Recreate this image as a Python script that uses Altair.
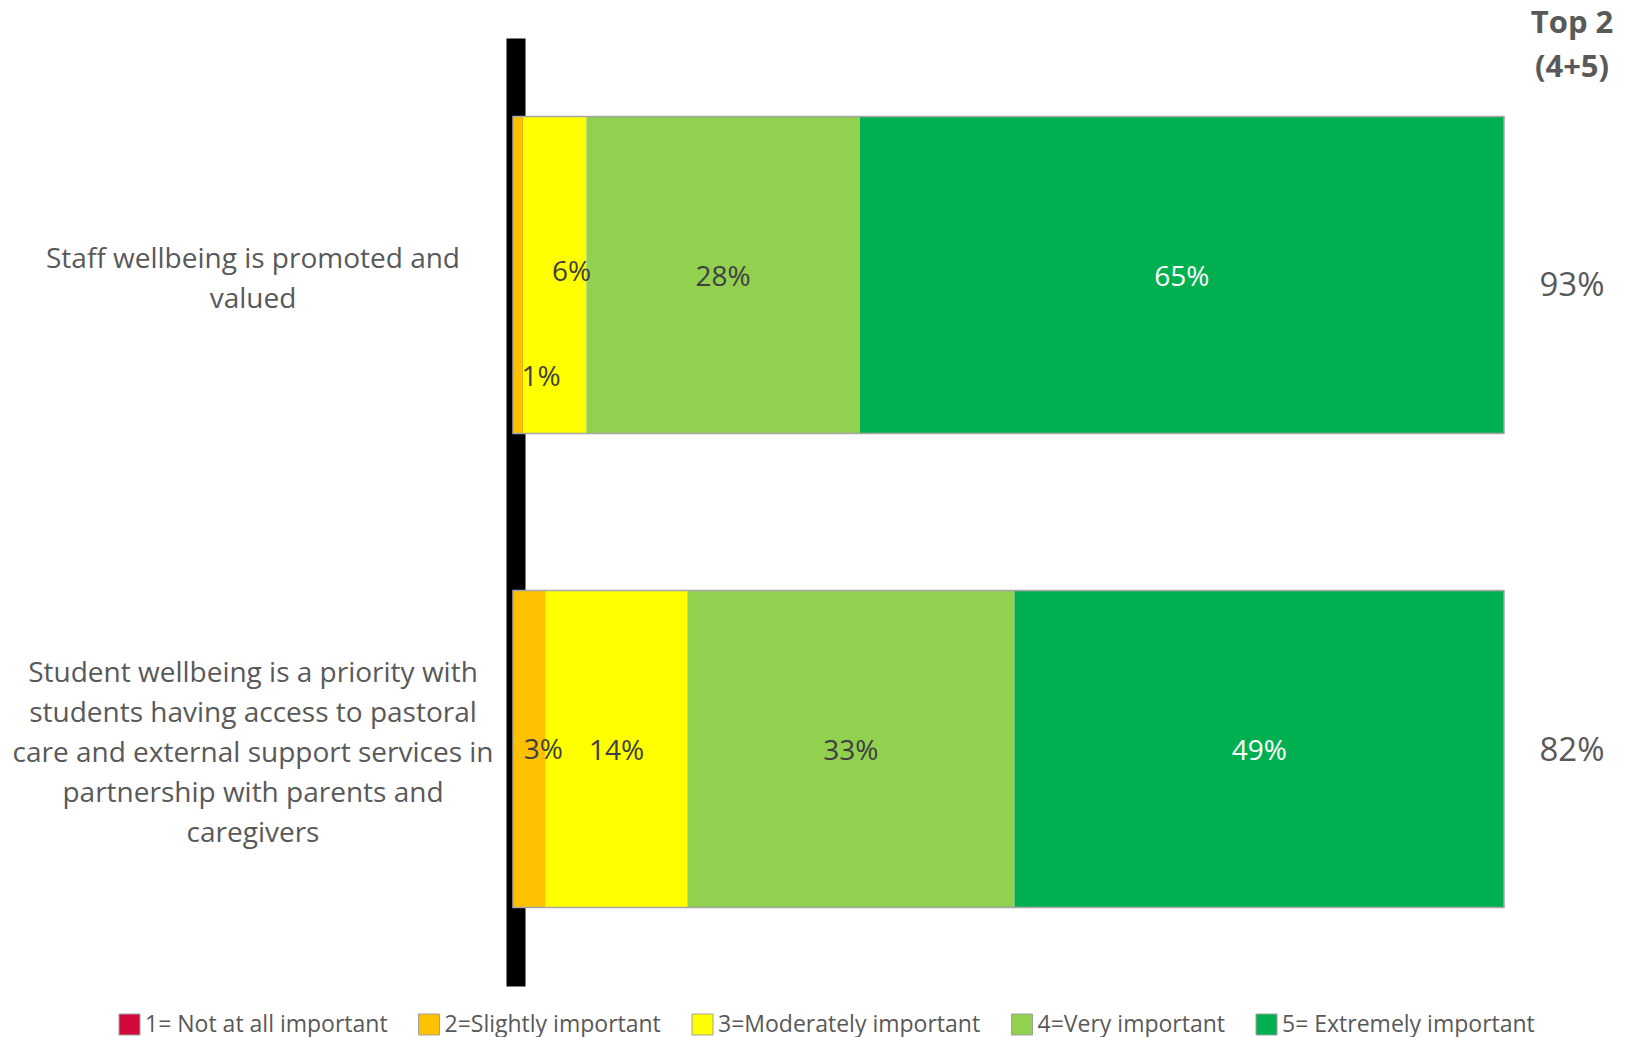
import altair as alt
import pandas as pd

# ---------------- data ----------------
questions = [
    "Staff wellbeing is promoted and valued",
    "Student wellbeing is a priority with students having access to pastoral care and external support services in partnership with parents and caregivers",
]
question_lines = [
    ["Staff wellbeing is promoted and", "valued"],
    ["Student wellbeing is a priority with", "students having access to pastoral",
     "care and external support services in", "partnership with parents and", "caregivers"],
]
ratings = ["1= Not at all important", "2=Slightly important", "3=Moderately important",
           "4=Very important", "5= Extremely important"]
colors = ["#D20A3C", "#FFC000", "#FFFF00", "#92D050", "#00B050"]
staff_values = [0.0, 1.0, 6.4, 27.6, 65.0]
student_values = [0.0, 3.3, 14.3, 33.0, 49.4]
top2_values = [93, 82]
header_lines = ["Top 2", "(4+5)"]

rows = []
for q, vals in zip(questions, [staff_values, student_values]):
    for i, (r, v) in enumerate(zip(ratings, vals)):
        rows.append({"question": q, "rating": r, "order": i + 1, "value": v})
df = pd.DataFrame(rows)

top_df = pd.DataFrame({"question": questions, "top2": top2_values})
head_df = pd.DataFrame({"t": ["\n".join(header_lines)]})

FONT = "Open Sans"
GREY = "#595959"
W, H = 991, 948
LABEL_LH = 40

y_enc = alt.Y(
    "question:N", sort=questions, title=None,
    scale=alt.Scale(paddingInner=0.331, paddingOuter=0.1655),
    axis=alt.Axis(labels=False, ticks=False, title=None, domainColor="black",
                  domainWidth=19, zindex=0, offset=-2.5, grid=False),
)
x_scale = alt.Scale(domain=[0, 100], nice=False, zero=True)

base = alt.Chart(df).transform_stack(
    stack="value", groupby=["question"], as_=["x0", "x1"],
    sort=[alt.SortField("order", order="ascending")],
).transform_calculate(
    mid="(datum.x0 + datum.x1) / 2",
    label="format(datum.value, '.0f') + '%'",
)

bars = base.mark_bar().encode(
    y=y_enc,
    x=alt.X("x0:Q", scale=x_scale, axis=None),
    x2="x1:Q",
    color=alt.Color(
        "rating:N",
        scale=alt.Scale(domain=ratings, range=colors),
        legend=alt.Legend(
            title=None, orient="none", direction="horizontal",
            legendX=-395, legendY=975, symbolType="square", symbolSize=441,
            symbolStrokeColor="#a0a0a0", symbolStrokeWidth=1,
            labelFont=FONT, labelFontSize=23, labelColor=GREY,
            labelOffset=4, columnPadding=28.5, padding=0, labelLimit=400,
        ),
    ),
)

outline = alt.Chart(df).mark_bar(filled=False, color="#a6a6a6", strokeWidth=1.5).encode(
    y=y_enc,
    x=alt.X("sum(value):Q", scale=x_scale, axis=None, stack=None),
)

big_labels = base.transform_filter("datum.value >= 10").mark_text(
    font=FONT, fontSize=28, baseline="middle", align="center", dy=3
).encode(
    y=y_enc,
    x=alt.X("mid:Q", scale=x_scale, axis=None),
    text="label:N",
    color=alt.condition("datum.order == 5", alt.value("white"), alt.value("#404040")),
)


def small_label(q_idx, order, dx, dy):
    return base.transform_filter(
        f"datum.question == '{questions[q_idx]}' && datum.order == {order}"
    ).mark_text(
        font=FONT, fontSize=28, baseline="middle", align="center", dx=dx, dy=dy,
        color="#404040",
    ).encode(
        y=y_enc,
        x=alt.X("mid:Q", scale=x_scale, axis=None),
        text="label:N",
    )


small1 = small_label(0, 3, 17, -2)
small2 = small_label(0, 2, 23, 103)
small3 = small_label(1, 2, 14, 2)


def question_label(q_idx):
    lines = question_lines[q_idx]
    d = pd.DataFrame({"question": [questions[q_idx]], "lines": ["\n".join(lines)]})
    return alt.Chart(d).mark_text(
        font=FONT, fontSize=28, color=GREY, align="center", baseline="middle",
        lineBreak="\n", lineHeight=LABEL_LH, dy=5 - (len(lines) - 1) * LABEL_LH / 2,
    ).encode(
        y=y_enc,
        x=alt.value(-260),
        text="lines:N",
    )


ylab1 = question_label(0)
ylab2 = question_label(1)


def top2_label(q_idx, dy):
    return alt.Chart(top_df).transform_filter(
        f"datum.question == '{questions[q_idx]}'"
    ).transform_calculate(
        t="format(datum.top2, '.0f') + '%'"
    ).mark_text(
        font=FONT, fontSize=33, color=GREY, align="center", baseline="middle", dy=dy,
    ).encode(
        y=y_enc,
        x=alt.value(1059),
        text="t:N",
    )


top2a = top2_label(0, 11)
top2b = top2_label(1, 2)

header = alt.Chart(head_df).mark_text(
    font=FONT, fontSize=31, fontWeight="bold", color=GREY, align="center",
    baseline="middle", lineBreak="\n", lineHeight=44,
).encode(
    x=alt.value(1059),
    y=alt.value(-14),
    text="t:N",
)

chart = alt.layer(
    bars, outline, big_labels, small1, small2, small3, ylab1, ylab2, top2a, top2b, header
).properties(
    width=W, height=H,
    background="white",
    autosize=alt.AutoSizeParams(type="none"),
    padding={"left": 513, "top": 38, "right": 126, "bottom": 51},
).configure_view(stroke=None)

chart.save("out.html", embed_options={"renderer": "svg", "actions": False})
